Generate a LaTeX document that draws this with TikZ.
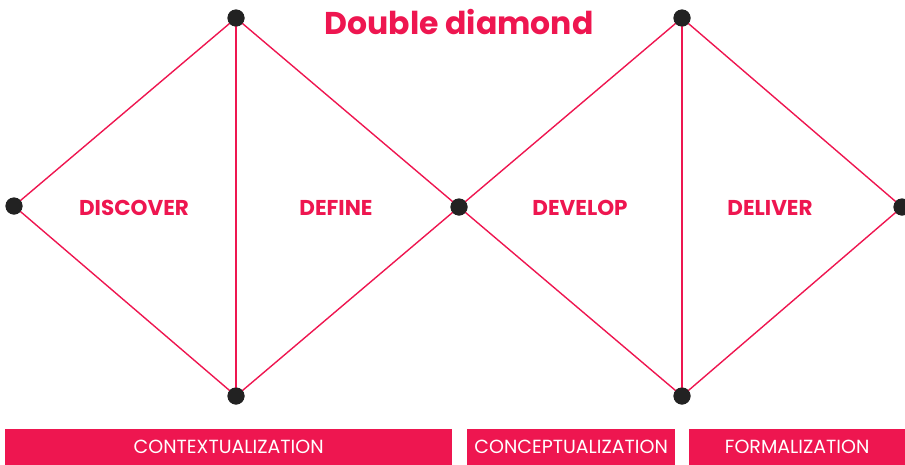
\documentclass[tikz,border=0pt]{standalone}
\usepackage{fontspec}
\setmainfont{Poppins}
\definecolor{ddpink}{HTML}{EE1650}
\definecolor{dddot}{HTML}{222222}
\tikzset{
  dot/.style={circle,fill=dddot,inner sep=0pt,minimum size=17pt},
  phase/.style={text=ddpink,font=\fontsize{21.5}{24}\selectfont\bfseries},
  stage/.style={fill=ddpink,text=white,inner sep=0pt,anchor=north west,
                font=\fontsize{19}{22}\selectfont},
}
\begin{document}
\begin{tikzpicture}[x=1pt,y=-1pt]
        \useasboundingbox (0,0) rectangle (905,464);

        \node (L)  [dot] at (14,206)  {};
        \node (T1) [dot] at (236,18)  {};
        \node (B1) [dot] at (236,396) {};
        \node (M)  [dot] at (459,207) {};
        \node (T2) [dot] at (682,18)  {};
        \node (B2) [dot] at (682,396) {};
        \node (R)  [dot] at (902,207) {};

        \node (title) at (459,22) [text=ddpink,font=\fontsize{31.5}{35}\selectfont\bfseries] {Double diamond};

        \node (discover) [phase] at (134,208) {DISCOVER};
        \node (define)   [phase] at (336,208) {DEFINE};
        \node (develop)  [phase] at (580,208) {DEVELOP};
        \node (deliver)  [phase] at (770,208) {DELIVER};

        % the two diamonds, split down the middle
        \draw [ddpink,line width=1.4pt] (L.center) -- (T1.center) -- (M.center) -- (B1.center) -- cycle;
        \draw [ddpink,line width=1.4pt] (T1.center) -- (B1.center);
        \draw [ddpink,line width=1.4pt] (M.center) -- (T2.center) -- (R.center) -- (B2.center) -- cycle;
        \draw [ddpink,line width=1.4pt] (T2.center) -- (B2.center);
        \foreach \n in {L,T1,B1,M,T2,B2,R}
          \fill [dddot] (\n) circle (8.5);

        % bars along the bottom
        \node (ctx) [stage,minimum width=447pt,minimum height=36pt] at (5,429) {CONTEXTUALIZATION};
        \node (cpt) [stage,minimum width=208pt,minimum height=36pt] at (467,429) {CONCEPTUALIZATION};
        \node (frm) [stage,minimum width=216pt,minimum height=36pt] at (689,429) {FORMALIZATION};
      \end{tikzpicture}
\end{document}
